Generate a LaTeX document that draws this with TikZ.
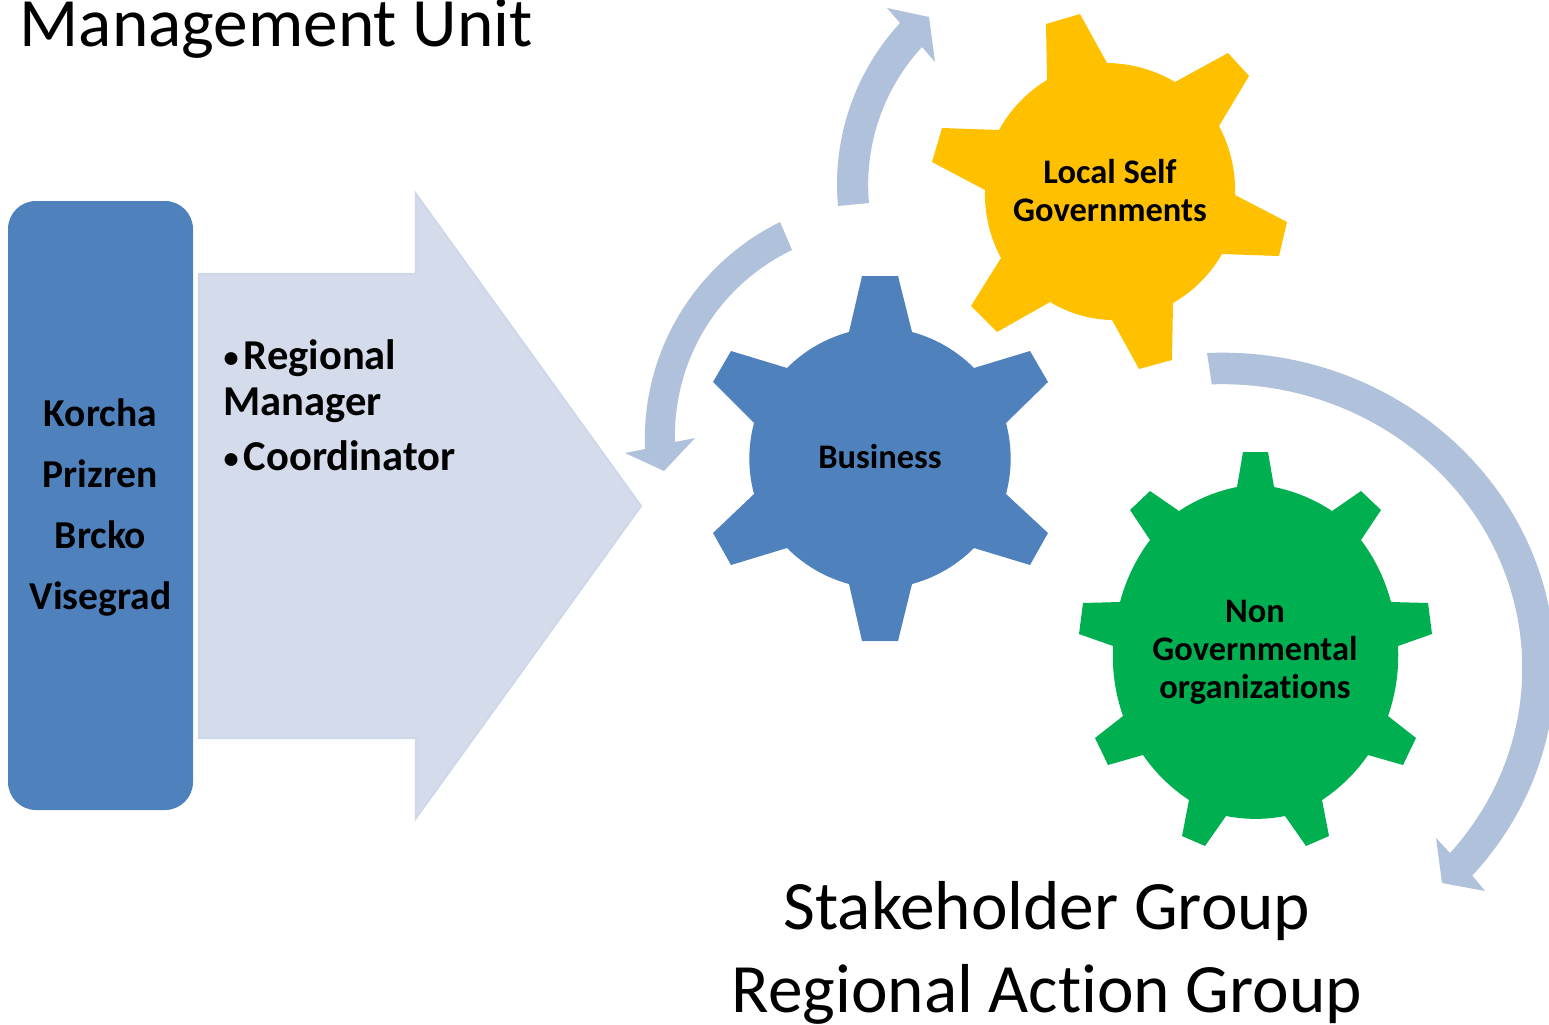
\documentclass[tikz,border=0pt]{standalone}
\usepackage{fontspec}
\setmainfont[Ligatures=CommonOff]{Carlito}
\usepackage{tikz}

\definecolor{panelblue}{HTML}{4F81BD}
\definecolor{gearyellow}{HTML}{FFC000}
\definecolor{geargreen}{HTML}{00B050}
\definecolor{bendblue}{HTML}{B0C1DC}
\definecolor{bigfill}{HTML}{D4DBEB}
\definecolor{bigline}{HTML}{CFD8E9}

\newcommand{\rolebullet}{\makebox[5.7pt][l]{\fontsize{8.6}{10}\selectfont\raisebox{0.4pt}{•}}}

\begin{document}
\begin{tikzpicture}[x=0.01cm,y=-0.01cm]

	\tikzset{title text/.style={font=\fontsize{19.7}{24}\selectfont, inner sep=0, anchor=base},
		city text/.style={font=\fontsize{11.25}{13}\selectfont\bfseries, inner sep=0, anchor=base},
		role text/.style={font=\fontsize{12.1}{14}\selectfont\bfseries, inner sep=0, anchor=base west},
		gear text/.style={font=\fontsize{9.8}{10.8}\selectfont\bfseries, inner sep=0, align=center},
		bend arrow/.style={fill=bendblue},
		wide arc/.style={bend left=15, looseness=0.87},
		narrow arc/.style={bend left=11, looseness=0.87}}

	\useasboundingbox (0,0) rectangle (1549,1024);

	% left panel and big arrow
	\fill[panelblue, rounded corners=0.28cm] (8,201) rectangle (193,810);
	\filldraw[fill=bigfill, draw=bigline, line width=0.6pt, line join=miter]
		(199,274) -- (416,274) -- (416,194) -- (641,506) -- (416,818) -- (416,738) -- (199,738) -- cycle;

	\foreach \y/\city in {426/Korcha,487/Prizren,548/Brcko,609/Visegrad}
		\node[city text] (\city) at (100.5,\y) {\city};

	\node[role text] (regional) at (223,369) {\rolebullet Regional};
	\node[role text] (manager) at (223,415) {Manager};
	\node[role text] (coordinator) at (223,470) {\rolebullet Coordinator};

	% business gear
	\fill[panelblue] (849,332) -- (862,276) -- (898,276) -- (912,332) to[wide arc] (974,368)
		-- (1030,351) -- (1048,382) -- (1006,423) to[wide arc] (1006,494)
		-- (1048,533) -- (1030,565) -- (974,548) to[wide arc] (912,584)
		-- (898,641) -- (862,641) -- (849,584) to[wide arc] (787,548)
		-- (731,565) -- (713,533) -- (754,494) to[wide arc] (754,423)
		-- (713,382) -- (731,351) -- (787,368) to[wide arc] cycle;

	% local self governments gear
	\fill[gearyellow] (1047,80) -- (1046,24) -- (1080,14) -- (1107,63) to[wide arc] (1175,82)
		-- (1228,53) -- (1249,76) -- (1219,126) to[wide arc] (1235,195)
		-- (1287,222) -- (1279,256) -- (1222,254) to[wide arc] (1173,303)
		-- (1172,360) -- (1139,369) -- (1112,320) to[wide arc] (1050,302)
		-- (997,332) -- (971,306) -- (1001,258) to[wide arc] (985,190)
		-- (932,162) -- (942,128) -- (999,130) to[wide arc] cycle;

	% ngo gear
	\fill[geargreen] (1237,487) -- (1243,452) -- (1268,452) -- (1274,487) to[narrow arc] (1332,511)
		-- (1361,491) -- (1381,510) -- (1361,540) to[narrow arc] (1391,602)
		-- (1428,603) -- (1432,634) -- (1398,646) to[narrow arc] (1388,716)
		-- (1416,738) -- (1403,765) -- (1368,755) to[narrow arc] (1322,800)
		-- (1329,836) -- (1306,846) -- (1285,816) to[narrow arc] (1226,816)
		-- (1205,846) -- (1182,836) -- (1189,800) to[narrow arc] (1143,755)
		-- (1108,765) -- (1095,738) -- (1123,716) to[narrow arc] (1113,646)
		-- (1079,634) -- (1083,603) -- (1120,602) to[narrow arc] (1150,540)
		-- (1130,510) -- (1150,491) -- (1179,511) to[narrow arc] cycle;

	\node[gear text] (business) at (880,457) {Business};
	\node[gear text] (local) at (1110,191) {Local Self\\Governments};
	\node[gear text] (ngo) at (1255,652) {Non\\Governmental\\organizations};

	% curved arrows
	\fill[bend arrow] (838,206) to[bend left=24, looseness=0.89] (900,23) -- (887,8) -- (929,17) -- (935,62) -- (922,47) to[bend right=24, looseness=0.89] (869,203) -- cycle;
	\fill[bend arrow] (780,222) to[bend right=33, looseness=0.93] (645,449) -- (625,453) -- (664,471) -- (695,438) -- (675,442) to[bend left=33, looseness=0.93] (792,250) -- cycle;
	\fill[bend arrow] (1207,353) arc[start angle=-92.6, end angle=41.3, x radius=333, y radius=315]
		-- (1485,891) -- (1442,883) -- (1436,838) -- (1450,853)
		arc[start angle=40.6, end angle=-92, x radius=300, y radius=284] -- cycle;

	% titles
	\node[title text, anchor=base west] (management) at (19,47) {Management Unit};
	\node[title text] (stakeholder) at (1047,929) {Stakeholder Group};
	\node[title text] (action) at (1047,1012) {Regional Action Group};

\end{tikzpicture}
\end{document}
